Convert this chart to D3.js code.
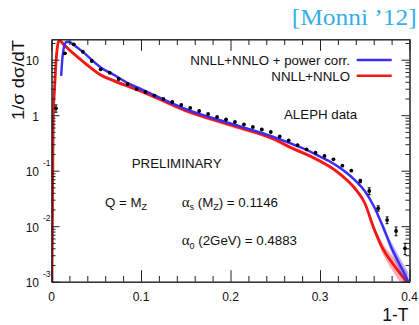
<!DOCTYPE html>
<html><head><meta charset="utf-8">
<script src="https://cdn.jsdelivr.net/npm/d3@7"></script>
<style>
body{margin:0;background:#fff}
svg{display:block}
text{font-family:"Liberation Sans",Arial,Helvetica,sans-serif;fill:#111}
</style>
</head><body>
<svg id="c" width="419" height="325"></svg>
<script>
// ALEPH data (1-T bin centres, 1/sigma dsigma/dT, relative errors)
const dataX=[0.005,0.015,0.025,0.035,0.045,0.055,0.065,0.075,0.085,0.095,0.105,0.115,0.125,0.135,0.145,0.155,0.165,0.175,0.185,0.195,0.205,0.215,0.225,0.235,0.245,0.255,0.265,0.275,0.285,0.295,0.305,0.315,0.325,0.335,0.345,0.355,0.365,0.375,0.385,0.395];
const dataY=[1.33,13.0,18.9,13.9,9.48,6.71,5.83,4.49,3.65,2.96,2.62,2.26,1.96,1.73,1.53,1.35,1.19,1.05,0.929,0.837,0.754,0.680,0.613,0.552,0.498,0.413,0.350,0.290,0.243,0.211,0.184,0.160,0.123,0.100,0.0652,0.0431,0.0210,0.0129,0.00819,0.0040];
const dataRelErr=[0.15,0.03,0.03,0.03,0.03,0.03,0.03,0.03,0.03,0.03,0.03,0.03,0.03,0.03,0.03,0.03,0.03,0.03,0.03,0.03,0.03,0.03,0.03,0.03,0.03,0.03,0.03,0.03,0.03,0.03,0.03,0.04,0.04,0.05,0.07,0.14,0.11,0.14,0.18,0.23];

// NNLL+NNLO + power corr. (blue)
const blueX=[0.0108,0.012,0.0135,0.015,0.017,0.02,0.025,0.035,0.045,0.055,0.07,0.085,0.1,0.15,0.2,0.25,0.267,0.28,0.29,0.3,0.31,0.32,0.33,0.34,0.35,0.36,0.37,0.38,0.39,0.399];
const blueY=[5.1,9.9,15.6,19.2,21.1,20.8,18.4,13.8,9.9,7.23,5.3,3.8,2.96,1.29,0.709,0.396,0.312,0.2565,0.217,0.180,0.1496,0.119,0.091,0.0652,0.0431,0.0231,0.0101,0.00405,0.00192,0.00099];
const blueBand=[0.05,0.05,0.05,0.05,0.05,0.05,0.05,0.05,0.05,0.05,0.05,0.05,0.05,0.05,0.05,0.05,0.05,0.05,0.05,0.05,0.05,0.05,0.06,0.07,0.08,0.1,0.15,0.25,0.35,0.45];

// NNLL+NNLO (red)
const redX=[0.0005,0.0009,0.0014,0.0019,0.0033,0.0047,0.0066,0.0083,0.0105,0.013,0.02,0.03,0.04,0.055,0.07,0.085,0.1,0.15,0.2,0.25,0.267,0.28,0.29,0.3,0.31,0.32,0.33,0.34,0.35,0.36,0.371,0.38,0.39,0.397];
const redY=[0.001,0.0056,0.1,0.82,2.8,7.5,17.1,22.0,21.3,19.2,15.0,10.9,8.0,5.3,4.15,3.35,2.72,1.21,0.665,0.362,0.262,0.213,0.180,0.149,0.121,0.0935,0.068,0.0458,0.0262,0.00929,0.00372,0.00226,0.00138,0.00099];
const redBand=[0.08,0.08,0.08,0.08,0.08,0.08,0.08,0.08,0.08,0.08,0.08,0.08,0.08,0.08,0.08,0.08,0.08,0.08,0.08,0.08,0.08,0.08,0.08,0.08,0.08,0.08,0.08,0.09,0.1,0.15,0.25,0.35,0.45,0.5];

const xMajor=[0,0.1,0.2,0.3,0.4];
const xMinor=[0.02,0.04,0.06,0.08,0.12,0.14,0.16,0.18,0.22,0.24,0.26,0.28,0.32,0.34,0.36,0.38];
const yMajor=[0.001,0.01,0.1,1,10];
const yMajorLabels=[["10","-3"],["10","-2"],["10","-1"],["1",""],["10",""]];
const yMinor=[0.002,0.003,0.004,0.005,0.006,0.007,0.008,0.009,0.02,0.03,0.04,0.05,0.06,0.07,0.08,0.09,0.2,0.3,0.4,0.5,0.6,0.7,0.8,0.9,2,3,4,5,6,7,8,9,20];

const legendLabels=["NNLL+NNLO + power corr.","NNLL+NNLO"];
const blueCol="#3b2cf6", redCol="#f51616";

const svg=d3.select("#c");
const L=51.5,R=409.5,T=39.3,B=281.7;
const x=d3.scaleLinear().domain([0,0.4]).range([L,R]);
const y=d3.scaleLog().domain([0.001,23.3]).range([B,T]);

svg.append("defs").append("clipPath").attr("id","clip")
  .append("rect").attr("x",L).attr("y",T).attr("width",R-L).attr("height",B-T);

const plot=svg.append("g").attr("clip-path","url(#clip)");

function drawCurve(xs,ys,band,col,lw){
  const pts=xs.map((d,i)=>({x:d,v:ys[i],b:band[i]}));
  const area=d3.area().x(d=>x(d.x)).y0(d=>y(d.v/(1+d.b))).y1(d=>y(d.v*(1+d.b))).curve(d3.curveMonotoneX);
  plot.append("path").attr("d",area(pts)).attr("fill",col).attr("fill-opacity",0.35);
  const line=d3.line().x(d=>x(d.x)).y(d=>y(d.v)).curve(d3.curveMonotoneX);
  plot.append("path").attr("d",line(pts)).attr("fill","none").attr("stroke",col).attr("stroke-width",lw).attr("stroke-linejoin","round");
}
drawCurve(redX,redY,redBand,redCol,2.8);
drawCurve(blueX,blueY,blueBand,blueCol,2.4);

// data points
const dg=plot.append("g");
dataX.forEach((d,i)=>{
  const v=dataY[i], e=dataRelErr[i];
  const cx=x(d), y1=y(v*(1+e)), y2=y(v*(1-e));
  dg.append("line").attr("x1",cx).attr("x2",cx).attr("y1",y1).attr("y2",y2).attr("stroke","#000").attr("stroke-width",1);
  if(e>0.06){
    dg.append("line").attr("x1",cx-1.5).attr("x2",cx+1.5).attr("y1",y1).attr("y2",y1).attr("stroke","#000");
    dg.append("line").attr("x1",cx-1.5).attr("x2",cx+1.5).attr("y1",y2).attr("y2",y2).attr("stroke","#000");
  }
  dg.append("circle").attr("cx",cx).attr("cy",y(v)).attr("r",1.9).attr("fill","#000");
});

// axes
const axCol="#222";
function styleAx(g){g.selectAll("path").attr("stroke",axCol);g.selectAll("line").attr("stroke",axCol);g.selectAll("text").remove();}
svg.append("g").attr("transform",`translate(0,${B})`).call(d3.axisBottom(x).tickValues(xMajor).tickSizeInner(-11.5).tickSizeOuter(0)).call(styleAx);
svg.append("g").attr("transform",`translate(0,${B})`).call(d3.axisBottom(x).tickValues(xMinor).tickSizeInner(-5.7).tickSizeOuter(0)).call(styleAx);
svg.append("g").attr("transform",`translate(0,${T})`).call(d3.axisTop(x).tickValues(xMajor).tickSizeInner(-11.5).tickSizeOuter(0)).call(styleAx);
svg.append("g").attr("transform",`translate(0,${T})`).call(d3.axisTop(x).tickValues(xMinor).tickSizeInner(-5.7).tickSizeOuter(0)).call(styleAx);
svg.append("g").attr("transform",`translate(${L},0)`).call(d3.axisLeft(y).tickValues(yMajor).tickSizeInner(-8).tickSizeOuter(0)).call(styleAx);
svg.append("g").attr("transform",`translate(${L},0)`).call(d3.axisLeft(y).tickValues(yMinor).tickSizeInner(-4).tickSizeOuter(0)).call(styleAx);
svg.append("g").attr("transform",`translate(${R},0)`).call(d3.axisRight(y).tickValues(yMajor).tickSizeInner(-8).tickSizeOuter(0)).call(styleAx);
svg.append("g").attr("transform",`translate(${R},0)`).call(d3.axisRight(y).tickValues(yMinor).tickSizeInner(-4).tickSizeOuter(0)).call(styleAx);

// tick labels
xMajor.forEach(v=>{
  svg.append("text").attr("x",x(v)).attr("y",301).attr("text-anchor","middle").attr("font-size",12).text(v===0?"0":d3.format(".1f")(v));
});
yMajor.forEach((v,i)=>{
  const [b,e]=yMajorLabels[i];
  svg.append("text").attr("x",39).attr("y",y(v)+5.5).attr("text-anchor","end").attr("font-size",12).text(b);
  if(e) svg.append("text").attr("x",43).attr("y",y(v)-5).attr("font-size",8.5).text(e);
});

// axis titles
svg.append("text").attr("transform","translate(23.5,80) rotate(-90)").attr("text-anchor","middle").attr("font-size",17)
  .attr("textLength",80).attr("lengthAdjust","spacingAndGlyphs").text("1/σ dσ/dT");
svg.append("text").attr("x",408.5).attr("y",321).attr("text-anchor","end").attr("font-size",17.5).text("1-T");

// legend
const legCols=[blueCol,redCol];
legendLabels.forEach((t,i)=>{
  const yy=[60,75.7][i];
  svg.append("text").attr("x",350).attr("y",yy+4.8).attr("text-anchor","end").attr("font-size",13.3).text(t);
  svg.append("line").attr("x1",356.7).attr("x2",391.7).attr("y1",yy).attr("y2",yy).attr("stroke",legCols[i]).attr("stroke-width",2.4);
});

// annotations
svg.append("text").attr("x",284).attr("y",119).attr("font-size",13.3).text("ALEPH data");
svg.append("text").attr("x",131.7).attr("y",167.5).attr("font-size",13.3).text("PRELIMINARY");
const q=svg.append("text").attr("x",105).attr("y",206.5).attr("font-size",13.3);
q.append("tspan").text("Q = M");
q.append("tspan").attr("font-size",9).attr("dy",3.5).text("Z");
const serif='"Liberation Serif","DejaVu Serif",serif';
const a1=svg.append("text").attr("x",181.7).attr("y",206.5).attr("font-size",13.3);
a1.append("tspan").style("font-family",serif).attr("font-size",15).text("α");
a1.append("tspan").attr("font-size",9).attr("dy",3.5).text("s");
a1.append("tspan").attr("dy",-3.5).text(" (M");
a1.append("tspan").attr("font-size",9).attr("dy",3.5).text("Z");
a1.append("tspan").attr("dy",-3.5).text(") = 0.1146");
const a2=svg.append("text").attr("x",181.7).attr("y",245).attr("font-size",13.3);
a2.append("tspan").style("font-family",serif).attr("font-size",15).text("α");
a2.append("tspan").attr("font-size",9).attr("dy",3.5).text("0");
a2.append("tspan").attr("dy",-3.5).text(" (2GeV) = 0.4883");

// citation
svg.append("text").attr("x",291.7).attr("y",25).style("font-family",serif).attr("font-size",24)
  .attr("textLength",125).attr("lengthAdjust","spacingAndGlyphs").style("fill","#36aee6").text("[Monni ’12]");
</script>
</body></html>
